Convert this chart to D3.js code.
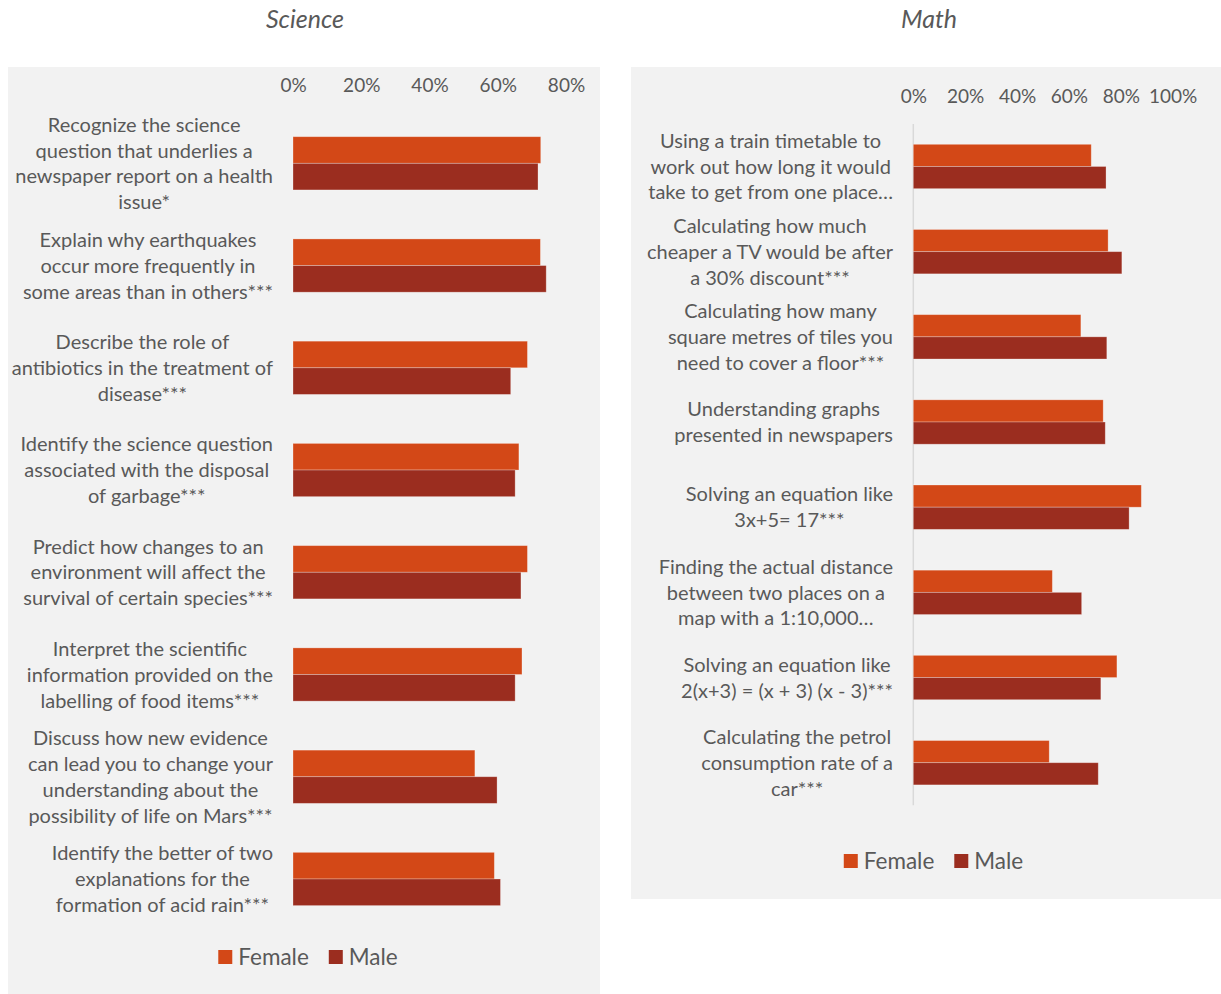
<!DOCTYPE html>
<html>
<head>
<meta charset="utf-8">
<script src="https://cdn.jsdelivr.net/npm/d3@7"></script>
<style>
  html, body { margin: 0; padding: 0; background: #ffffff; }
  svg { display: block; }
  text { font-family: Lato, "Noto Sans", sans-serif; fill: #595959; }
</style>
</head>
<body>
<svg id="chart" width="1221" height="994"></svg>
<script>
// Series shown in both panels
const seriesNames = ["Female", "Male"];

// Science items (line breaks as printed next to the bars)
const scienceCategories = [
  "Recognize the science\nquestion that underlies a\nnewspaper report on a health\nissue*",
  "Explain why earthquakes\noccur more frequently in\nsome areas than in others***",
  "Describe the role of\nantibiotics in the treatment of\ndisease***",
  "Identify the science question\nassociated with the disposal\nof garbage***",
  "Predict how changes to an\nenvironment will affect the\nsurvival of certain species***",
  "Interpret the scientific\ninformation provided on the\nlabelling of food items***",
  "Discuss how new evidence\ncan lead you to change your\nunderstanding about the\npossibility of life on Mars***",
  "Identify the better of two\nexplanations for the\nformation of acid rain***"
];
const scienceFemale = [0.726, 0.725, 0.687, 0.662, 0.687, 0.671, 0.533, 0.590];
const scienceMale   = [0.718, 0.742, 0.638, 0.651, 0.668, 0.651, 0.598, 0.608];
const scienceTicks  = [0, 0.2, 0.4, 0.6, 0.8];

// Math items
const mathCategories = [
  "Using a train timetable to\nwork out how long it would\ntake to get from one place…",
  "Calculating how much\ncheaper a TV would be after\na 30% discount***",
  "Calculating how many\nsquare metres of tiles you\nneed to cover a floor***",
  "Understanding graphs\npresented in newspapers",
  "Solving an equation like\n3x+5= 17***",
  "Finding the actual distance\nbetween two places on a\nmap with a 1:10,000…",
  "Solving an equation like\n2(x+3) = (x + 3) (x - 3)***",
  "Calculating the petrol\nconsumption rate of a\ncar***"
];
const mathFemale = [0.686, 0.751, 0.646, 0.732, 0.879, 0.536, 0.785, 0.524];
const mathMale   = [0.743, 0.804, 0.746, 0.740, 0.832, 0.649, 0.723, 0.713];
const mathTicks  = [0, 0.2, 0.4, 0.6, 0.8, 1.0];

const seriesColor = d3.scaleOrdinal().domain(seriesNames).range(["#D34817", "#9B2D1F"]);

const svg = d3.select("#chart");

function drawPanel(o) {
  const g = svg.append("g");

  // panel background
  g.append("rect")
    .attr("x", o.box.x).attr("y", o.box.y)
    .attr("width", o.box.w).attr("height", o.box.h)
    .attr("fill", "#f2f2f2");

  // title above the panel
  svg.append("text")
    .attr("x", o.titleX).attr("y", 28)
    .attr("text-anchor", "middle")
    .style("font-style", "italic")
    .style("font-size", "25px")
    .text(o.title);

  const x = d3.scaleLinear().domain([0, o.ticks[o.ticks.length - 1]]).range(o.xRange);
  const y = d3.scaleBand().domain(d3.range(o.categories.length)).range(o.yRange).paddingInner(0).paddingOuter(0);
  const inner = d3.scaleBand().domain(seriesNames).range([0, y.bandwidth()]).paddingInner(0).paddingOuter(0.92);

  // value axis along the top
  const axis = g.append("g")
    .attr("transform", `translate(0,${o.tickY})`)
    .call(d3.axisTop(x).tickValues(o.ticks).tickFormat(d3.format(".0%")).tickSize(0).tickPadding(0));
  axis.select(".domain").remove();
  axis.selectAll("text")
    .attr("fill", "#595959")
    .style("font-family", "Lato, 'Noto Sans', sans-serif")
    .style("font-size", "19px");

  // category axis line
  if (o.axisLine) {
    g.append("line")
      .attr("x1", x(0)).attr("x2", x(0))
      .attr("y1", o.yRange[0]).attr("y2", o.yRange[1])
      .attr("stroke", "#d9d9d9").attr("stroke-width", 1.5);
  }

  // bars
  const rows = o.categories.map((c, i) => ({ i, values: [o.female[i], o.male[i]] }));
  const row = g.selectAll("g.row").data(rows).join("g")
    .attr("class", "row")
    .attr("transform", d => `translate(0,${y(d.i)})`);
  row.selectAll("rect")
    .data(d => d.values.map((v, k) => ({ s: seriesNames[k], v })))
    .join("rect")
    .attr("x", x(0))
    .attr("y", d => inner(d.s))
    .attr("width", d => x(d.v) - x(0))
    .attr("height", inner.bandwidth())
    .attr("fill", d => seriesColor(d.s))
    .attr("stroke", "rgba(255,255,255,0.35)")
    .attr("stroke-width", 0.8);

  // category labels: a right-aligned block, each line centred within it
  const lh = 25.8;
  o.categories.forEach((c, i) => {
    const lines = c.split("\n");
    const cy = y(i) + y.bandwidth() / 2;
    const block = g.append("g");
    const texts = block.selectAll("text").data(lines).join("text")
      .attr("y", (d, k) => cy + (k - (lines.length - 1) / 2) * lh)
      .attr("dy", "0.36em")
      .attr("text-anchor", "middle")
      .style("font-size", "20px")
      .text(d => d);
    let maxW = 0;
    texts.each(function () { maxW = Math.max(maxW, this.getComputedTextLength()); });
    texts.attr("x", o.labelRight - maxW / 2);
  });

  // legend
  const leg = g.append("g");
  let cursor = 0;
  seriesNames.forEach((s, k) => {
    const it = leg.append("g");
    it.append("rect")
      .attr("x", 0).attr("y", -7).attr("width", 14).attr("height", 14)
      .attr("fill", seriesColor(s));
    const t = it.append("text")
      .attr("x", 20).attr("y", 0).attr("dy", "0.36em")
      .style("font-size", "22.5px")
      .text(s);
    const w = 20 + t.node().getComputedTextLength();
    it.attr("transform", `translate(${cursor},0)`);
    cursor += w + (k < seriesNames.length - 1 ? 20 : 0);
  });
  leg.attr("transform", `translate(${o.legendCenter[0] - cursor / 2},${o.legendCenter[1]})`);
}

drawPanel({
  title: "Science",
  titleX: 305,
  categories: scienceCategories,
  female: scienceFemale,
  male: scienceMale,
  ticks: scienceTicks,
  box: { x: 8, y: 67, w: 592, h: 927 },
  xRange: [293, 566],
  yRange: [112.2, 930.1],
  tickY: 91.5,
  labelRight: 273,
  axisLine: false,
  legendCenter: [308, 957]
});

drawPanel({
  title: "Math",
  titleX: 929,
  categories: mathCategories,
  female: mathFemale,
  male: mathMale,
  ticks: mathTicks,
  box: { x: 631, y: 67, w: 590, h: 832 },
  xRange: [913.3, 1172.7],
  yRange: [123.9, 805.3],
  tickY: 102.5,
  labelRight: 893,
  axisLine: true,
  legendCenter: [933.5, 861]
});
</script>
</body>
</html>
